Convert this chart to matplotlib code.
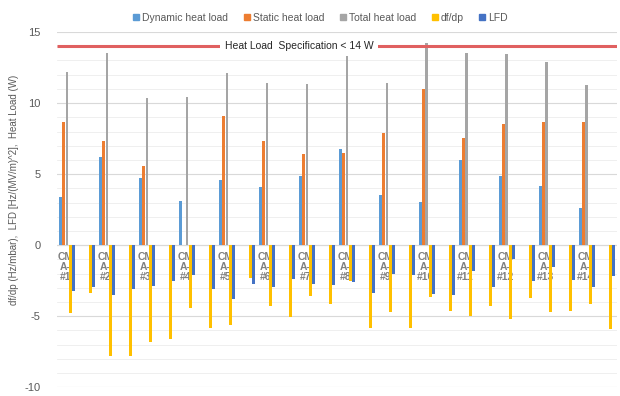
import numpy as np
import matplotlib
matplotlib.use("Agg")
import matplotlib.pyplot as plt
from matplotlib.lines import Line2D
from matplotlib.ticker import MultipleLocator

plt.rcParams['font.family'] = ['Liberation Sans', 'DejaVu Sans']
plt.rcParams['axes.unicode_minus'] = False

# 28 categories: every CMA unit is followed by an unlabeled category
categories = ["CMA-#1", "", "CMA-#2", "", "CMA-#3", "", "CMA-#4", "", "CMA-#5", "",
              "CMA-#6", "", "CMA-#7", "", "CMA-#8", "", "CMA-#9", "", "CMA-#10", "",
              "CMA-#11", "", "CMA-#12", "", "CMA-#13", "", "CMA-#14", ""]

# heat loads (only on labeled categories)
dynamic_heat = [3.4, 6.2, 4.7, 3.1, 4.6, 4.1, 4.9, 6.8, 3.5, 3.05, 6.0, 4.9, 4.2, 2.6]
static_heat = [8.7, 7.3, 5.6, np.nan, 9.1, 7.3, 6.4, 6.5, 7.9, 11.0, 7.55, 8.55, 8.7, 8.65]
total_heat = [12.2, 13.5, 10.35, 10.45, 12.1, 11.4, 11.35, 13.3, 11.4, 14.2, 13.55, 13.45, 12.9, 11.25]

# df/dp and LFD (all 28 categories)
dfdp = [-4.8, -3.35, -7.8, -7.8, -6.8, -6.6, -4.4, -5.85, -5.65, -2.3,
        -4.25, -5.05, -3.55, -4.15, -2.5, -5.85, -4.7, -5.8, -3.65, -4.6,
        -4.95, -4.3, -5.2, -3.7, -4.7, -4.6, -4.15, -5.9]
lfd = [-3.2, -2.95, -3.5, -3.1, -2.9, -2.55, -2.1, -3.1, -3.8, -2.7,
       -2.95, -2.4, -2.7, -2.8, -2.6, -3.35, -2.0, -2.1, -3.4, -3.5,
       -1.8, -2.95, -1.0, -2.5, -1.5, -2.45, -2.95, -2.15]

spec_value = 14
spec_text = "Heat Load  Specification < 14 W"
ylabel = "df/dp (Hz/mbar),  LFD [Hz/(MV/m)^2],  Heat Load (W)"

colors = ["#5B9BD5", "#ED7D31", "#A5A5A5", "#FFC000", "#4472C4"]
names = ["Dynamic heat load", "Static heat load", "Total heat load", "df/dp", "LFD"]

fig = plt.figure(figsize=(6.2, 3.96), dpi=100)
ax = fig.add_axes([0.092, 0.022, 0.903, 0.897])

n = len(categories)
x = np.arange(n)
heat_idx = x[::2]
step = 0.165
w = 0.145

ax.bar(heat_idx - 2 * step, dynamic_heat, w, color=colors[0], zorder=3)
ax.bar(heat_idx - 1 * step, static_heat, w, color=colors[1], zorder=3)
ax.bar(heat_idx + 0 * step, total_heat, w, color=colors[2], zorder=3)
ax.bar(x + 1 * step, dfdp, w, color=colors[3], zorder=3)
ax.bar(x + 2 * step, lfd, w, color=colors[4], zorder=3)

ax.set_xlim(-0.5, n - 0.5)
ax.set_ylim(-10, 15)
ax.yaxis.set_major_locator(MultipleLocator(5))
ax.yaxis.set_minor_locator(MultipleLocator(1))
ax.grid(axis='y', which='major', color='#D9D9D9', lw=0.8, zorder=0)
ax.grid(axis='y', which='minor', color='#EDEDED', lw=0.6, zorder=0)
ax.set_axisbelow(True)
for s in ax.spines.values():
    s.set_visible(False)
ax.axhline(0, color='#D9D9D9', lw=0.8, zorder=1)
ax.set_xticks([])
ax.tick_params(axis='y', which='both', length=0, labelsize=8, labelcolor='#595959', pad=12)

# category labels next to the zero axis, wrapped like Excel
for xi, lab in zip(x, categories):
    if lab:
        wrapped = lab[:2] + "\n" + lab[2:4] + "\n" + lab[4:]
        ax.text(xi - 0.08, -0.45, wrapped, ha='center', va='top', fontsize=7.5, fontweight='bold',
                color='#808080', linespacing=1.05, zorder=2)

# specification line
ax.plot([-0.5, n - 0.5], [spec_value, spec_value], color='#E06060', lw=2.2, zorder=4,
        solid_capstyle='butt')
ax.text(11.6, spec_value, spec_text, ha='center', va='center', fontsize=7.5, color='#262626',
        zorder=5, bbox=dict(facecolor='white', edgecolor='none', pad=3.5))

fig.text(0.022, 0.52, ylabel, rotation=90, ha='center', va='center', fontsize=7, color='#595959')

handles = [Line2D([], [], marker='s', color='none', markerfacecolor=c, markeredgecolor=c,
                  markersize=4) for c in colors]
fig.legend(handles, names, loc='center', bbox_to_anchor=(0.515, 0.955), ncol=5, frameon=False,
           fontsize=7.5, labelcolor='#595959', handletextpad=0.05, columnspacing=1.3,
           handlelength=1.0, borderaxespad=0)

fig.savefig("out.png", dpi=100)
